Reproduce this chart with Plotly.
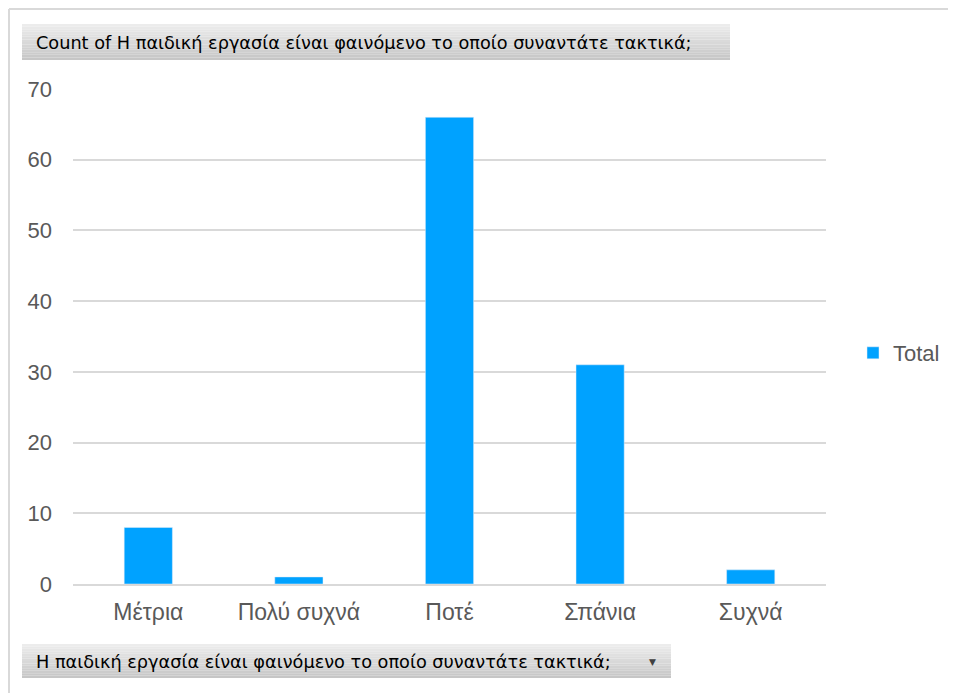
import plotly.graph_objects as go

categories = ['Μέτρια', 'Πολύ συχνά', 'Ποτέ', 'Σπάνια', 'Συχνά']
totals = [8, 1, 66, 31, 2]
y_ticks = [0, 10, 20, 30, 40, 50, 60, 70]

title_text = 'Count of Η παιδική εργασία είναι φαινόμενο το οποίο συναντάτε τακτικά;'
field_text = 'Η παιδική εργασία είναι φαινόμενο το οποίο συναντάτε τακτικά;'

# the page body has an 8px margin, so the figure sits at (8, 8) in the window
OFF = 8
W, H = 956 - OFF, 693 - OFF
BAR_COLOR = '#00A2FF'
BTN_FONT = 'DejaVu Sans, Tahoma, sans-serif'

# plot area in window pixels: x 73..826, y 89..584
ML = 73 - OFF
MT = 89 - OFF
MR = W - (826 - OFF)
MB = H - (584 - OFF)


def to_paper_x(v):
    # window pixel -> paper coordinate
    return (v - OFF - ML) / (W - ML - MR)


def to_paper_y(v):
    return (H - MB - (v - OFF)) / (H - MT - MB)


def button(x0, y0, x1, y1, steps=14):
    # pseudo-gradient: light on top, darker toward the bottom
    out = []
    h = (y1 - y0) / steps
    for i in range(steps):
        c = int(236 - i * (40 / steps))
        out.append(dict(
            type='rect', xref='paper', yref='paper', layer='below',
            x0=to_paper_x(x0), x1=to_paper_x(x1),
            y0=to_paper_y(y0 + (i + 1) * h), y1=to_paper_y(y0 + i * h),
            fillcolor=f'rgb({c},{c},{c})', line=dict(width=0)
        ))
    return out


fig = go.Figure()

fig.add_trace(go.Bar(
    x=categories,
    y=totals,
    name='Total',
    marker_color=BAR_COLOR,
    width=0.32
))

shapes = []
# outer frame (top and left edge)
shapes.append(dict(type='line', xref='paper', yref='paper', layer='below',
                   x0=to_paper_x(9), x1=to_paper_x(960),
                   y0=to_paper_y(9), y1=to_paper_y(9),
                   line=dict(color='#D9D9D9', width=2)))
shapes.append(dict(type='line', xref='paper', yref='paper', layer='below',
                   x0=to_paper_x(9), x1=to_paper_x(9),
                   y0=to_paper_y(9), y1=to_paper_y(700),
                   line=dict(color='#D9D9D9', width=2)))

shapes += button(22, 24, 730, 60)
shapes += button(22, 644, 671, 678)

annotations = [
    dict(text=title_text, xref='paper', yref='paper',
         x=to_paper_x(34), y=to_paper_y(43), xanchor='left', yanchor='middle',
         showarrow=False, font=dict(family=BTN_FONT, size=17.7, color='#000000')),
    dict(text=field_text, xref='paper', yref='paper',
         x=to_paper_x(34), y=to_paper_y(662), xanchor='left', yanchor='middle',
         showarrow=False, font=dict(family=BTN_FONT, size=17.7, color='#000000')),
    dict(text='▼', xref='paper', yref='paper',
         x=to_paper_x(652), y=to_paper_y(662), xanchor='center', yanchor='middle',
         showarrow=False, font=dict(family=BTN_FONT, size=9, color='#404040')),
]

fig.update_layout(
    width=W, height=H,
    margin=dict(l=ML, r=MR, t=MT, b=MB, autoexpand=False),
    paper_bgcolor='white',
    plot_bgcolor='white',
    font=dict(family='Arial, Liberation Sans, sans-serif', size=22, color='#595959'),
    showlegend=True,
    legend=dict(x=to_paper_x(853), y=to_paper_y(353), xanchor='left', yanchor='middle',
                font=dict(size=22, color='#595959'), bgcolor='rgba(0,0,0,0)'),
    xaxis=dict(showgrid=False, showline=True, linecolor='#D9D9D9', linewidth=2,
               ticks='', tickfont=dict(size=23), ticklabelstandoff=6),
    yaxis=dict(range=[0, 70], tickvals=y_ticks, showgrid=True, gridcolor='#D9D9D9',
               gridwidth=2, zeroline=False, showline=False, ticks='',
               tickfont=dict(size=22), ticklabelstandoff=20),
    shapes=shapes,
    annotations=annotations,
)

fig.write_html('out.html')
